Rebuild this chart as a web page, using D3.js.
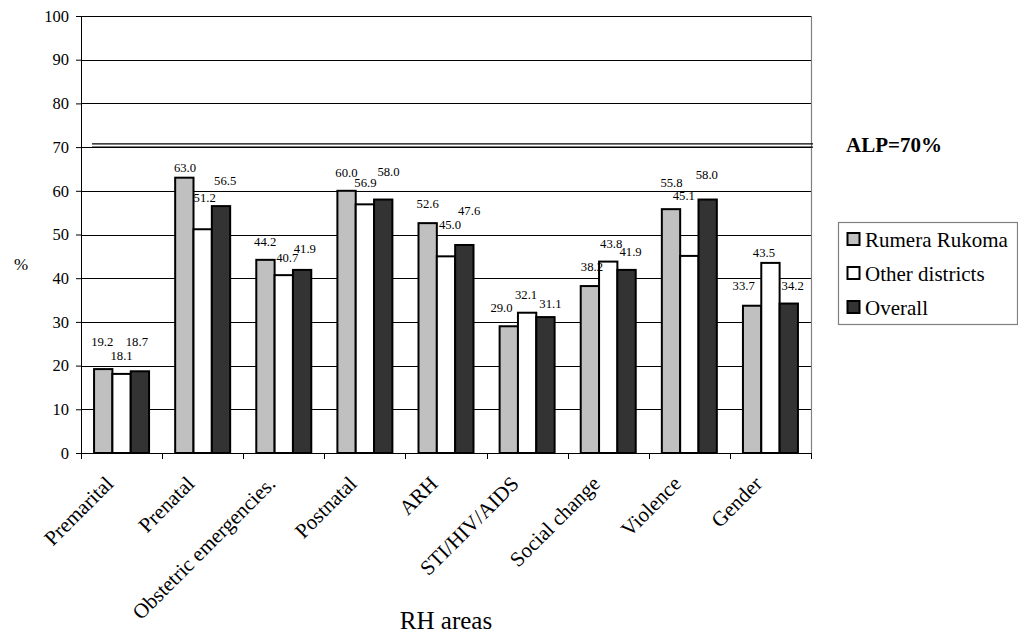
<!DOCTYPE html>
<html>
<head>
<meta charset="utf-8">
<script src="https://cdn.jsdelivr.net/npm/d3@7"></script>
<style>
  html, body { margin: 0; padding: 0; background: #fff; }
  svg { display: block; }
  svg text { font-family: "Liberation Serif", "Times New Roman", serif; }
</style>
</head>
<body>
<svg id="chart" width="1018" height="634"></svg>
<script>
// RH area scores by district group
const categories = ["Premarital", "Prenatal", "Obstetric emergencies.", "Postnatal", "ARH",
                    "STI/HIV/AIDS", "Social change", "Violence", "Gender"];
const seriesNames = ["Rumera Rukoma", "Other districts", "Overall"];
const rumeraRukoma   = [19.2, 63.0, 44.2, 60.0, 52.6, 29.0, 38.2, 55.8, 33.7];
const otherDistricts = [18.1, 51.2, 40.7, 56.9, 45.0, 32.1, 43.8, 45.1, 43.5];
const overall        = [18.7, 56.5, 41.9, 58.0, 47.6, 31.1, 41.9, 58.0, 34.2];
const yTicks = [0, 10, 20, 30, 40, 50, 60, 70, 80, 90, 100];
const alpValue = 70;
const alpLabel = "ALP=70%";

// hand-placed data label nudges (px above bar top, px sideways from bar centre)
const labelLift = [
  [23, 6, 13.8, 14.1, 14.8, 14.6, 14.6, 22.5, 15.7],
  [14.4, 27.6, 13.4, 17.6, 27.1, 13.4, 14, 55.9, 6.2],
  [25, 21, 16.9, 23.8, 30, 8.8, 14, 20.5, 13.5]
];
const labelShift = [
  [-1, 0.7, -0.3, -0.1, 0, -7.3, 2, 0.5, -8.4],
  [0, 2, 3.5, 0.5, 4, -1, 3, -5.5, -6.5],
  [-3, 4.2, 2.7, 5.3, 4.8, 5, 4, -0.8, 3.9]
];

const seriesValues = [rumeraRukoma, otherDistricts, overall];
const fills = ["#c0c0c0", "#ffffff", "#333333"];
const FONT = "Liberation Serif";

const svg = d3.select("#chart");
const plot = { left: 81, right: 811, top: 16, bottom: 453 };

const x0 = d3.scaleBand().domain(categories).range([plot.left, plot.right])
  .paddingInner(0.322).paddingOuter(0.161);
const x1 = d3.scaleBand().domain(seriesNames).range([0, x0.bandwidth()]);
const y = d3.scaleLinear().domain([0, 100]).range([plot.bottom, plot.top]);

// gridlines
svg.append("g").selectAll("line").data(yTicks.filter(t => t > 0)).join("line")
  .attr("x1", plot.left).attr("x2", plot.right)
  .attr("y1", d => Math.round(y(d)) + 0.5).attr("y2", d => Math.round(y(d)) + 0.5)
  .attr("stroke", "#000").attr("stroke-width", 1);

// right border of plot area
svg.append("line")
  .attr("x1", plot.right + 0.5).attr("x2", plot.right + 0.5)
  .attr("y1", plot.top).attr("y2", plot.bottom)
  .attr("stroke", "#808080").attr("stroke-width", 1.2);

// y axis
const yAxis = d3.axisLeft(y).tickValues(yTicks).tickSize(5).tickPadding(7).tickFormat(d3.format("d"));
const gy = svg.append("g").attr("transform", `translate(${plot.left},0)`).call(yAxis)
  .attr("font-family", FONT);
gy.select(".domain").attr("stroke", "#000");
gy.selectAll(".tick line").attr("stroke", "#000");
gy.selectAll(".tick text").attr("font-size", 16.5).attr("fill", "#000")
  .attr("font-family", FONT);

// x axis: ticks at category boundaries
const xAxisLine = svg.append("g");
xAxisLine.append("line")
  .attr("x1", plot.left).attr("x2", plot.right)
  .attr("y1", plot.bottom + 0.5).attr("y2", plot.bottom + 0.5)
  .attr("stroke", "#000");
const boundaries = categories.map(c => x0(c) - x0.step() * x0.paddingOuter()).concat([plot.right]);
xAxisLine.selectAll(".btick").data(boundaries).join("line")
  .attr("x1", d => Math.round(d) + 0.5).attr("x2", d => Math.round(d) + 0.5)
  .attr("y1", plot.bottom).attr("y2", plot.bottom + 6)
  .attr("stroke", "#000");

// bars
const groups = svg.append("g").selectAll("g").data(categories).join("g")
  .attr("transform", d => `translate(${x0(d)},0)`);
groups.selectAll("rect").data((c, i) => seriesNames.map((s, k) => ({ s, k, v: seriesValues[k][i] })))
  .join("rect")
  .attr("x", d => x1(d.s))
  .attr("y", d => y(d.v))
  .attr("width", x1.bandwidth())
  .attr("height", d => y(0) - y(d.v))
  .attr("fill", d => fills[d.k])
  .attr("stroke", "#000").attr("stroke-width", 2);

// value labels
groups.selectAll("text").data((c, i) => seriesNames.map((s, k) => ({ s, k, i, v: seriesValues[k][i] })))
  .join("text")
  .attr("x", d => x1(d.s) + x1.bandwidth() / 2 + labelShift[d.k][d.i])
  .attr("y", d => y(d.v) - labelLift[d.k][d.i])
  .attr("text-anchor", "middle")
  .attr("font-family", FONT)
  .attr("font-size", 12.7)
  .text(d => d3.format(".1f")(d.v));

// ALP reference (double line)
[-3.3, 0].forEach(off => {
  svg.append("line")
    .attr("x1", 92).attr("x2", 813)
    .attr("y1", y(alpValue) + off).attr("y2", y(alpValue) + off)
    .attr("stroke", "#000").attr("stroke-width", 1.3);
});
svg.append("text")
  .attr("x", 846).attr("y", 151.5)
  .attr("font-family", FONT)
  .attr("font-size", 21).attr("font-weight", "bold")
  .text(alpLabel);

// category labels
svg.append("g").selectAll("text").data(categories).join("text")
  .attr("transform", d => `translate(${x0(d) + x0.bandwidth() / 2 - 7},${plot.bottom + 32}) rotate(-45)`)
  .attr("text-anchor", "end")
  .attr("font-family", FONT)
  .attr("font-size", 21)
  .text(d => d);

// axis titles
svg.append("text").attr("x", 446).attr("y", 629).attr("text-anchor", "middle")
  .attr("font-family", FONT).attr("font-size", 25).text("RH areas");
svg.append("text").attr("x", 21).attr("y", 270).attr("text-anchor", "middle")
  .attr("font-family", FONT).attr("font-size", 17).text("%");

// legend
const legend = svg.append("g");
legend.append("rect").attr("x", 838.5).attr("y", 222.5).attr("width", 179).attr("height", 102)
  .attr("fill", "#fff").attr("stroke", "#808080").attr("stroke-width", 1.2);
const legendRows = legend.selectAll("g").data(seriesNames).join("g")
  .attr("transform", (d, k) => `translate(0,${k * 34})`);
legendRows.append("rect").attr("x", 847.5).attr("y", 233).attr("width", 12).attr("height", 12)
  .attr("fill", (d, k) => fills[k]).attr("stroke", "#000").attr("stroke-width", 2);
legendRows.append("text").attr("x", 865).attr("y", 246.5)
  .attr("font-family", FONT).attr("font-size", 21).text(d => d);
</script>
</body>
</html>
